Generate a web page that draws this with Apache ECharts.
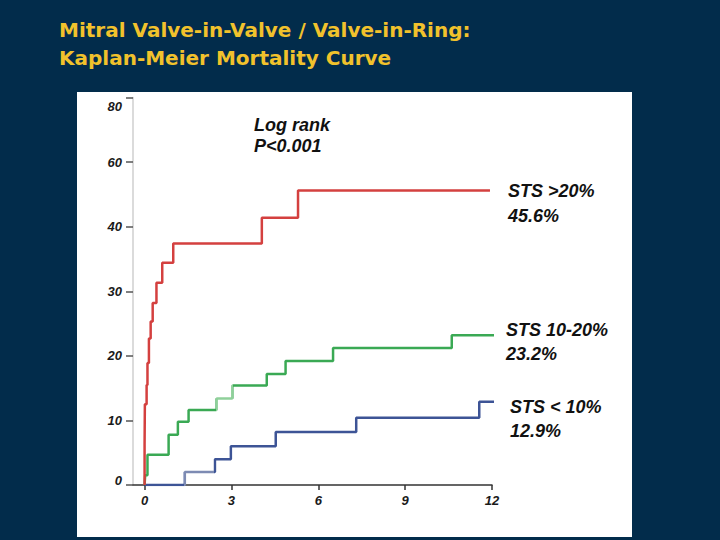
<!DOCTYPE html>
<html>
<head>
<meta charset="utf-8">
<script src="https://cdn.jsdelivr.net/npm/echarts@6/dist/echarts.min.js"></script>
<style>
  html, body { margin: 0; padding: 0; background: #022c4b; }
  #chart { width: 720px; height: 540px; }
</style>
</head>
<body>
<div id="chart"></div>
<script>
// ---- Data (months, cumulative mortality %) ----
const redTimes    = [0, 0, 0.01, 0.07, 0.10, 0.15, 0.21, 0.28, 0.41, 0.61, 0.99, 4.05, 5.30, 11.93];
const redValues   = [0, 6.2, 12.5, 15.5, 18.9, 22.7, 25.3, 28.2, 31.3, 34.4, 37.4, 41.4, 45.6, 45.6];
const greenTimes  = [0, 0.02, 0.10, 0.83, 1.15, 1.52, 2.49, 3.03, 4.22, 4.87, 6.51, 10.61, 12.07];
const greenValues = [0, 1.5, 4.7, 7.8, 9.8, 11.6, 13.4, 15.4, 17.2, 19.2, 21.2, 23.2, 23.2];
const blueTimes   = [0, 1.39, 2.43, 2.98, 4.53, 7.31, 11.56, 12.07];
const blueValues  = [0, 2.0, 4.0, 6.0, 8.2, 10.4, 12.9, 12.9];

const xTickValues = [0, 3, 6, 9, 12];
const yTickLabels = ['0', '10', '20', '30', '40', '60', '80'];

const seriesNames = ['STS >20%', 'STS 10-20%', 'STS < 10%'];
const endLabels   = ['STS >20%\n45.6%', 'STS 10-20%\n23.2%', 'STS < 10%\n12.9%'];

const zip = (t, v) => t.map((x, i) => [x, v[i]]);

const RED = '#d4403f', GREEN = '#3aa954', BLUE = '#3d5496';
const labelFont = 'italic bold 18px "Liberation Sans", Arial, sans-serif';
const axisFont = { fontFamily: '"Liberation Sans", Arial, sans-serif',
                   fontStyle: 'italic', fontWeight: 'bold', fontSize: 13, color: '#1a1a1a' };

const chart = echarts.init(document.getElementById('chart'), null, { renderer: 'svg' });

chart.setOption({
  backgroundColor: '#022c4b',
  animation: false,
  title: {
    text: 'Mitral Valve-in-Valve / Valve-in-Ring:\nKaplan-Meier Mortality Curve',
    left: 59, top: 16, padding: 0,
    textStyle: {
      color: '#f1c22c', fontFamily: '"DejaVu Sans", sans-serif',
      fontWeight: 'bold', fontSize: 20, lineHeight: 28
    }
  },
  graphic: [
    { type: 'rect', left: 77, top: 92, z: -10, silent: true,
      shape: { width: 555, height: 445 }, style: { fill: '#ffffff' } },
    { type: 'text', left: 254, top: 114, z: 10,
      style: { text: 'Log rank\nP<0.001', font: labelFont, fill: '#111', lineHeight: 21 } },
    { type: 'text', left: 508, top: 178, z: 10,
      style: { text: endLabels[0], font: labelFont, fill: '#111', lineHeight: 25 } },
    { type: 'text', left: 506, top: 318, z: 10,
      style: { text: endLabels[1], font: labelFont, fill: '#111', lineHeight: 24 } },
    { type: 'text', left: 510, top: 395, z: 10,
      style: { text: endLabels[2], font: labelFont, fill: '#111', lineHeight: 24 } }
  ],
  grid: { left: 133, right: 228, top: 97.5, bottom: 55, containLabel: false },
  xAxis: {
    type: 'value', min: -0.4, max: 12,
    splitLine: { show: false },
    axisLine: { onZero: false, lineStyle: { color: '#333', width: 1.5 } },
    axisTick: { customValues: xTickValues, length: 5, lineStyle: { color: '#333', width: 1.5 } },
    axisLabel: Object.assign({ customValues: xTickValues, margin: 9 }, axisFont)
  },
  yAxis: {
    type: 'value', min: 0, max: 60, interval: 10,
    splitLine: { show: false },
    axisLine: { onZero: false, lineStyle: { color: '#cfcfcf', width: 1.5 } },
    axisTick: { length: 7, lineStyle: { color: '#555', width: 1.5 } },
    axisLabel: Object.assign({
      margin: 11,
      formatter: function (v) {
        const s = yTickLabels[Math.round(v / 10)];
        if (v === 60) return '{lo|' + s + '}';
        if (v === 0) return '{hi|' + s + '}';
        return s;
      },
      rich: {
        lo: Object.assign({ padding: [18, 0, 0, 0] }, axisFont),
        hi: Object.assign({ padding: [0, 0, 10, 0] }, axisFont)
      }
    }, axisFont)
  },
  visualMap: [
    { type: 'piecewise', show: false, seriesIndex: 1, dimension: 0,
      pieces: [ { lt: 2.47, color: GREEN }, { gte: 2.47, lt: 3.05, color: '#8fd09a' }, { gte: 3.05, color: GREEN } ] },
    { type: 'piecewise', show: false, seriesIndex: 2, dimension: 0,
      pieces: [ { lt: 1.37, color: BLUE }, { gte: 1.37, lt: 2.41, color: '#7d8bb3' }, { gte: 2.41, color: BLUE } ] }
  ],
  series: [
    { name: seriesNames[0], type: 'line', step: 'end', symbol: 'none', z: 3,
      data: zip(redTimes, redValues), lineStyle: { color: RED, width: 2.5 }, itemStyle: { color: RED } },
    { name: seriesNames[1], type: 'line', step: 'end', symbol: 'none', z: 2,
      data: zip(greenTimes, greenValues), lineStyle: { width: 2.5 }, itemStyle: { color: GREEN } },
    { name: seriesNames[2], type: 'line', step: 'end', symbol: 'none', z: 1,
      data: zip(blueTimes, blueValues), lineStyle: { width: 2.5 }, itemStyle: { color: BLUE } }
  ]
});
</script>
</body>
</html>
